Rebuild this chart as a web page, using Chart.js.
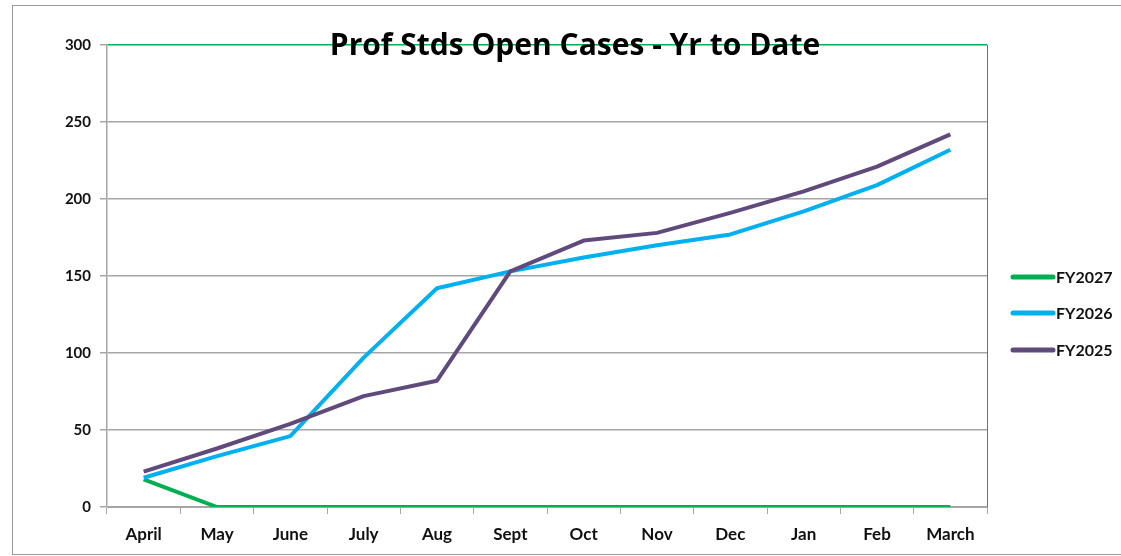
<!DOCTYPE html>
<html>
<head>
<meta charset="utf-8">
<script src="https://cdn.jsdelivr.net/npm/chart.js@4"></script>
<style>
html,body{margin:0;padding:0;background:#fff;}
#wrap{width:1121px;height:556px;position:relative;}
</style>
</head>
<body>
<div id="wrap"><canvas id="c" width="1121" height="556"></canvas></div>
<script>
const chartTitle = 'Prof Stds Open Cases - Yr to Date';
const months = ['April','May','June','July','Aug','Sept','Oct','Nov','Dec','Jan','Feb','March'];
const seriesNames = ['FY2027','FY2026','FY2025'];
const fy2027 = [18, 0, 0, 0, 0, 0, 0, 0, 0, 0, 0, 0];
const fy2026 = [19, 33, 46, 97, 142, 153, 162, 170, 177, 192, 209, 232];
const fy2025 = [23, 38, 54, 72, 82, 153, 173, 178, 191, 205, 221, 242];
const yTicks = [0, 50, 100, 150, 200, 250, 300];

const colors = ['#00b050', '#00b0f0', '#604a7b'];
const gray = '#a6a6a6';
const FONT = 'Lato, "Open Sans", sans-serif';

const decorPlugin = {
  id: 'decor',
  beforeDraw(chart) {
    const ctx = chart.ctx;
    ctx.save();
    ctx.strokeStyle = '#9a9a9a';
    ctx.lineWidth = 1;
    ctx.strokeRect(12.5, 5.5, 1130, 549);
    ctx.restore();
  },
  afterDatasetsDraw(chart) {
    const ctx = chart.ctx;
    const a = chart.chartArea;
    ctx.save();
    // right border of plot area (green)
    ctx.strokeStyle = '#00b050';
    ctx.lineWidth = 1;
    ctx.beginPath();
    ctx.moveTo(Math.round(a.right) + 0.5, a.top);
    ctx.lineTo(Math.round(a.right) + 0.5, a.bottom);
    ctx.stroke();
    // title
    ctx.fillStyle = '#000';
    ctx.font = 'bold 30px "Open Sans", Lato, sans-serif';
    ctx.textAlign = 'center';
    ctx.textBaseline = 'middle';
    ctx.fillText(chartTitle, 575, a.top + 1);
    // legend
    ctx.font = 'bold 16px ' + FONT;
    ctx.textAlign = 'left';
    const ys = [277, 313, 350];
    chart.data.datasets.forEach((ds, i) => {
      ctx.strokeStyle = ds.borderColor;
      ctx.lineWidth = 5;
      ctx.lineCap = 'round';
      ctx.beginPath();
      ctx.moveTo(1013, ys[i]);
      ctx.lineTo(1053, ys[i]);
      ctx.stroke();
      ctx.fillStyle = '#111';
      ctx.fillText(ds.label, 1056, ys[i] + 1);
    });
    ctx.restore();
  }
};

new Chart(document.getElementById('c'), {
  type: 'line',
  data: {
    labels: months,
    datasets: [
      { label: seriesNames[0], data: fy2027, borderColor: colors[0], backgroundColor: colors[0], order: 2 },
      { label: seriesNames[1], data: fy2026, borderColor: colors[1], backgroundColor: colors[1], order: 1 },
      { label: seriesNames[2], data: fy2025, borderColor: colors[2], backgroundColor: colors[2], order: 0 }
    ]
  },
  options: {
    responsive: false,
    animation: false,
    devicePixelRatio: 1,
    layout: { padding: { left: 0, top: 45, right: 134, bottom: 0 } },
    elements: {
      line: { borderWidth: 4, tension: 0, borderCapStyle: 'butt', borderJoinStyle: 'round' },
      point: { radius: 0, hoverRadius: 0 }
    },
    plugins: {
      legend: { display: false },
      title: { display: false },
      tooltip: { enabled: false }
    },
    scales: {
      x: {
        offset: true,
        afterFit(s) { s.height = 49; },
        grid: {
          offset: true,
          drawOnChartArea: false,
          drawTicks: true,
          tickLength: 7,
          color: gray,
          tickColor: gray
        },
        border: { display: true, color: gray, width: 1 },
        ticks: {
          color: '#111',
          font: { family: FONT, size: 17, weight: 'bold' },
          padding: 10,
          maxRotation: 0,
          autoSkip: false
        }
      },
      y: {
        min: 0,
        max: 300,
        afterFit(s) { s.width = 107; },
        afterBuildTicks(s) { s.ticks = yTicks.map(v => ({ value: v })); },
        grid: {
          color: (c) => (c.tick && c.tick.value === 300) ? '#00b050' : gray,
          tickColor: gray,
          tickLength: 7,
          lineWidth: 1.5
        },
        border: { display: true, color: gray, width: 1.5 },
        ticks: {
          color: '#111',
          font: { family: FONT, size: 15, weight: 'bold' },
          padding: 9
        }
      }
    }
  },
  plugins: [decorPlugin]
});
</script>
</body>
</html>
